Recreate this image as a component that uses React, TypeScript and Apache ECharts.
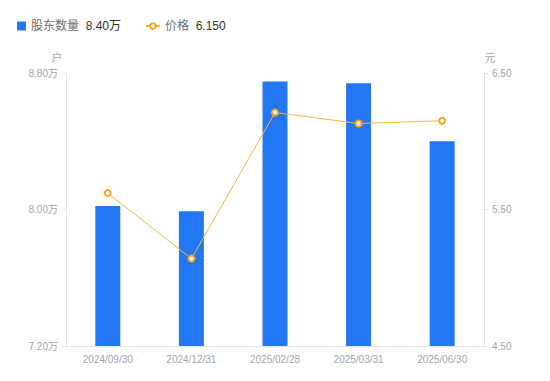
import React, { useEffect, useRef } from "react";
import * as echarts from "echarts";

const categories = ["2024/09/30", "2024/12/31", "2025/02/28", "2025/03/31", "2025/06/30"];
const holders = [8.02, 7.99, 8.75, 8.74, 8.4];
const prices = [5.62, 5.14, 6.21, 6.13, 6.15];
const holderLegendValue = "8.40万";
const priceLegendValue = "6.150";

export default function App() {
  const ref = useRef<HTMLDivElement>(null);
  useEffect(() => {
    document.body.style.margin = "0";
    if (!ref.current) return;
    const chart = echarts.init(ref.current, null, { renderer: "svg" });
    const font = "'Liberation Sans', 'Noto Sans CJK SC', sans-serif";
    const legendText = {
      fontFamily: font,
      rich: {
        a: { color: "#6b6e76", fontSize: 12, fontFamily: font },
        b: { color: "#333333", fontSize: 12, fontFamily: font },
      },
    };
    chart.setOption({
      animation: false,
      textStyle: { fontFamily: font },
      legend: [
        {
          left: 12,
          top: 15,
          itemWidth: 9,
          itemHeight: 9,
          data: [{ name: "股东数量", icon: "rect" }],
          formatter: (name: string) => `{a|${name}}{b|  ${holderLegendValue}}`,
          textStyle: legendText,
        },
        {
          left: 140,
          top: 15,
          itemWidth: 14,
          itemHeight: 7,
          data: [{ name: "价格" }],
          formatter: (name: string) => `{a|${name}}{b|  ${priceLegendValue}}`,
          textStyle: legendText,
        },
      ],
      grid: { left: 66, right: 66, top: 73, bottom: 35, containLabel: false },
      xAxis: {
        type: "category",
        data: categories,
        axisLine: { lineStyle: { color: "#e3e3e6" } },
        axisTick: { show: false },
        axisLabel: { color: "#a2a5ae", fontSize: 10, margin: 8 },
      },
      yAxis: [
        {
          type: "value",
          name: "户",
          nameGap: 10,
          nameTextStyle: { color: "#a2a5ae", fontSize: 11, padding: [0, 18, 0, 0] },
          min: 7.2,
          max: 8.8,
          interval: 0.8,
          axisLine: { show: true, lineStyle: { color: "#e3e3e6" } },
          axisTick: { show: true, length: 4, lineStyle: { color: "#e3e3e6" } },
          splitLine: { show: false },
          axisLabel: {
            color: "#a2a5ae",
            fontSize: 10,
            margin: 8,
            formatter: (v: number) => v.toFixed(2) + "万",
          },
        },
        {
          type: "value",
          name: "元",
          nameGap: 10,
          nameTextStyle: { color: "#a2a5ae", fontSize: 11, padding: [0, 0, 0, 12] },
          min: 4.5,
          max: 6.5,
          interval: 1,
          axisLine: { show: true, lineStyle: { color: "#e3e3e6" } },
          axisTick: { show: true, length: 4, lineStyle: { color: "#e3e3e6" } },
          splitLine: { show: false },
          axisLabel: {
            color: "#a2a5ae",
            fontSize: 10,
            margin: 8,
            formatter: (v: number) => v.toFixed(2),
          },
        },
      ],
      series: [
        {
          name: "股东数量",
          type: "bar",
          data: holders,
          barWidth: 25,
          itemStyle: { color: "#2477f4" },
        },
        {
          name: "价格",
          type: "line",
          yAxisIndex: 1,
          data: prices,
          symbol: "emptyCircle",
          symbolSize: 6,
          lineStyle: { color: "#f5b642", width: 1 },
          itemStyle: { color: "#f5a623", borderWidth: 1.5 },
        },
      ],
    });
    return () => chart.dispose();
  }, []);
  return <div ref={ref} style={{ width: 550, height: 381 }} />;
}
